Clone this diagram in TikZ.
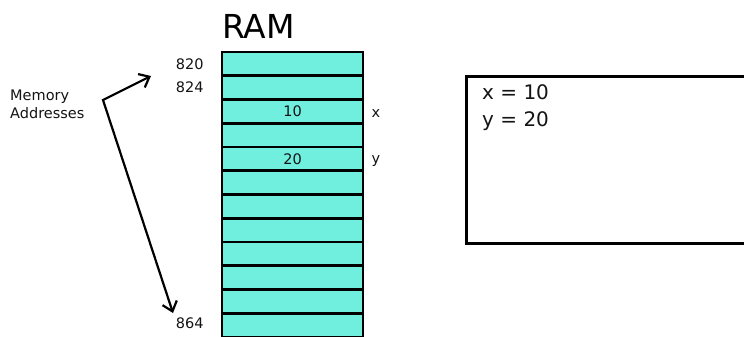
\documentclass[tikz,border=0pt]{standalone}
\usepackage{fontspec}
\setmainfont{DejaVu Sans}
\usetikzlibrary{arrows.meta}
\definecolor{cellfill}{RGB}{112,238,222}
\definecolor{txt}{RGB}{20,20,20}
\tikzset{
  cell/.style={draw=black, line width=2.6pt, fill=cellfill, minimum width=141pt, minimum height=23.75pt, inner sep=0pt, font=\fontsize{14.5}{16}\selectfont, text=txt},
  lab/.style={font=\fontsize{14.5}{16}\selectfont, text=txt, inner sep=0pt},
  arr/.style={line width=2.2pt, {Straight Barb[length=9pt,width=15pt]}-{Straight Barb[length=9pt,width=15pt]}},
}
\begin{document}
\begin{tikzpicture}[x=1pt,y=-1pt]
\useasboundingbox (0,0) rectangle (744,337);
\clip (0,0) rectangle (744,337);
\fill[white] (0,0) rectangle (744,337);
% RAM title
\node[anchor=base west, inner sep=0pt, font=\fontsize{33}{36}\selectfont, text=black] (ram) at (222,39) {RAM};
% cells
\foreach \i in {0,...,11} {
  \node[cell] (c\i) at (292.5,{52+\i*23.75+11.875}) {};
}
\node[lab] (v10) at (c2.center) {10};
\node[lab] (v20) at (c4.center) {20};
% addresses
\node[lab, anchor=east] (a820) at ([xshift=-17pt]c0.west) {820};
\node[lab, anchor=east] (a824) at ([xshift=-17pt]c1.west) {824};
\node[lab, anchor=east] (a864) at ([xshift=-17pt,yshift=2pt]c11.west) {864};
% variable names
\node[lab, anchor=west] (nx) at ([xshift=7pt,yshift=-2pt]c2.east) {x};
\node[lab, anchor=west] (ny) at ([xshift=7pt,yshift=-2pt]c4.east) {y};
% memory addresses label
\node[lab, anchor=west, align=left, font=\fontsize{14.5}{18}\selectfont] (mem) at (10,104) {Memory\\Addresses};
% arrows
\coordinate (v) at (103,100);
\coordinate (t1) at (151,76);
\coordinate (t2) at (173,313);
\draw[arr] (t1) -- (v) -- (t2);
% output box
\node[draw=black, line width=2.6pt, anchor=north west, minimum width=300pt, minimum height=167pt, inner sep=0pt] (box) at (465,75) {};
\node[anchor=north west, align=left, inner sep=0pt, font=\fontsize{20}{27}\selectfont, text=txt] (out) at ([xshift=17pt,yshift=-9pt]box.north west) {x = 10\\y = 20};
\end{tikzpicture}
\end{document}
